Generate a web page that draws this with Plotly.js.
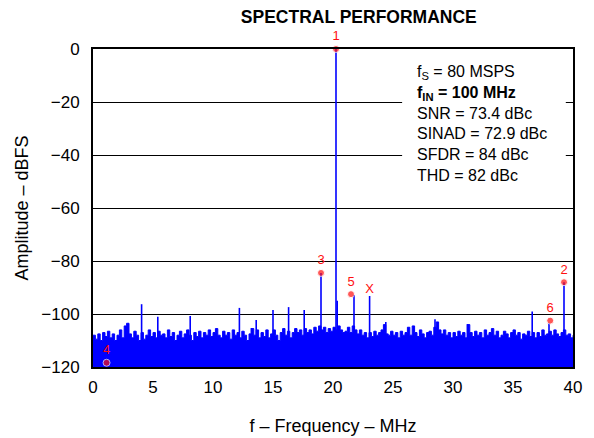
<!DOCTYPE html>
<html>
<head>
<meta charset="utf-8">
<script src="https://cdn.plot.ly/plotly-3.0.1.min.js"></script>
<style>html,body{margin:0;padding:0;background:#fff;}#chart{width:594px;height:438px;}</style>
</head>
<body>
<div id="chart"></div>
<script>
// ---- data ----
// noise floor, 0 to 40 MHz in 0.2 MHz steps (dBFS)
var noiseStep = 0.2;
var noiseLevel = [
  -108, -109.5, -107.5, -110, -107,
  -108.5, -106.5, -109, -107.5, -110,
  -108, -106, -109, -104.5, -103.5,
  -107.5, -109, -106.5, -108, -110,
  -107, -109.5, -108, -106, -108.5,
  -107, -109, -106.5, -108, -107.5,
  -109, -106, -108.5, -107, -110,
  -108, -106.5, -109, -107.5, -106,
  -108, -110, -107, -108.5, -106.5,
  -109, -107, -108, -106, -108.5,
  -107, -105.5, -108, -109, -106.5,
  -108, -107, -109.5, -106, -108,
  -107, -109, -106.5, -108, -110,
  -107.5, -105.5, -108, -106, -109,
  -107, -108.5, -106, -109, -107.5,
  -106, -108, -110, -107, -105.5,
  -108, -106.5, -109, -107, -105.5,
  -107, -106, -108, -105.5, -107,
  -106, -107.5, -105, -106.5, -104.5,
  -106, -105, -107, -105.5, -106.5,
  -105, -106, -104.5, -106, -107,
  -106.5, -105, -107, -104.5, -106,
  -107.5, -106, -108, -107, -109,
  -107, -108.5, -106.5, -108, -107,
  -106, -104, -107.5, -108, -106.5,
  -108, -107, -109, -106.5, -108,
  -107, -105, -108, -104.5, -107,
  -108.5, -106, -107.5, -109, -107,
  -106.5, -108, -105, -103, -106,
  -107.5, -106, -108, -107, -109,
  -107, -108.5, -106.5, -108, -107,
  -109, -104, -107, -108.5, -106.5,
  -108, -107, -109, -106, -108,
  -107, -105.5, -108, -106.5, -109,
  -108, -106.5, -107.5, -109, -107,
  -106, -108, -107, -109.5, -107.5,
  -108, -106.5, -108.5, -107, -109,
  -107, -108.5, -106, -108, -107.5,
  -106.5, -108, -106, -107.5, -108.5,
  -107, -106, -108, -107.5, -109,
  -108
];
// discrete spurs and the fundamental (MHz, dBFS)
var spurFreq  = [4.05, 5.4, 8.1, 12.2, 13.2, 13.6, 15.0, 16.3, 17.6, 19.0, 20.25, 20.35, 21.75, 23.05, 24.4, 28.5, 31.2, 36.6, 38.0, 39.25];
var spurLevel = [-96.3, -101, -100.8, -97.7, -105.3, -102.3, -98.5, -97.4, -98.5, -84.5, 0, -95, -92.8, -93.2, -103, -102, -103.8, -99.1, -103.4, -88];
// harmonic markers
var markerLabel = ['1', '3', '5', 'X', '2', '6', '4'];
var markerFreq  = [20.25, 19.0, 21.5, 23.05, 39.25, 38.1, 1.13];
var markerLevel = [0, -84.5, -92.5, -93.2, -88, -102.5, -118.4];
var markerShown = [true, true, true, false, true, true, true];
// axes
var yFloor = -120;
var xTicks = [0, 5, 10, 15, 20, 25, 30, 35, 40];
var yTicks = [0, -20, -40, -60, -80, -100, -120];
var infoLines = ['f<sub>S</sub> = 80 MSPS', '<b>f<sub>IN</sub> = 100 MHz</b>', 'SNR = 73.4 dBc', 'SINAD = 72.9 dBc', 'SFDR = 84 dBc', 'THD = 82 dBc'];

// ---- build traces ----
var noiseX = noiseLevel.map(function (v, i) { return +(i * noiseStep).toFixed(2); });
var baseY = noiseX.map(function () { return yFloor; });
var segX = [], segY = [];
spurFreq.forEach(function (f, i) { segX.push(f, f, null); segY.push(yFloor, spurLevel[i], null); });

var blue = '#0000FF', red = '#FF1010';
var font = 'Liberation Sans, Arial, Helvetica, sans-serif';

var traces = [
  {x: noiseX, y: baseY, mode: 'lines', line: {width: 0, color: blue}, hoverinfo: 'skip', showlegend: false},
  {x: noiseX, y: noiseLevel, mode: 'lines', fill: 'tonexty', fillcolor: blue, line: {width: 1, color: blue, shape: 'hv'}, showlegend: false},
  {x: segX, y: segY, mode: 'lines', line: {width: 1.6, color: blue}, showlegend: false},
  {x: markerFreq, y: markerLevel, mode: 'markers+text', text: markerLabel, textposition: 'top center',
   textfont: {family: font, size: 13, color: red},
   marker: {color: red, size: markerShown.map(function (s) { return s ? 7 : 0; })},
   cliponaxis: false, showlegend: false}
];

var layout = {
  width: 594, height: 438,
  margin: {l: 93, r: 21, t: 49, b: 71},
  paper_bgcolor: '#fff', plot_bgcolor: '#fff',
  font: {family: font, size: 17, color: '#000'},
  title: {text: '<b>SPECTRAL PERFORMANCE</b>', font: {family: font, size: 17.5, color: '#000'}, x: 0.604, xanchor: 'center', y: 0.962, yanchor: 'middle'},
  xaxis: {range: [0, 40], tickvals: xTicks, ticks: 'outside', ticklen: 4, tickcolor: 'rgba(0,0,0,0)',
          showgrid: false, zeroline: false, showline: true, linecolor: '#000', linewidth: 2, mirror: true,
          tickfont: {size: 17}, title: {text: 'f \u2013 Frequency \u2013 MHz', font: {size: 18}, standoff: 23}},
  yaxis: {range: [-120, 0], tickvals: yTicks, ticks: 'outside', ticklen: 8, tickcolor: 'rgba(0,0,0,0)',
          showgrid: true, gridcolor: '#000', gridwidth: 1, zeroline: false, showline: true, linecolor: '#000', linewidth: 2, mirror: true,
          tickfont: {size: 17}, title: {text: 'Amplitude \u2013 dBFS', font: {size: 18}, standoff: 8}},
  shapes: [{type: 'rect', xref: 'paper', yref: 'paper', x0: 0.644, x1: 0.985, y0: 0.55, y1: 0.972,
            fillcolor: '#fff', line: {width: 0}, layer: 'above'}],
  annotations: [{xref: 'paper', yref: 'paper', x: 0.671, y: 0.962, xanchor: 'left', yanchor: 'top', align: 'left',
                 showarrow: false, text: infoLines.join('<br>'), font: {family: font, size: 16, color: '#000'}}]
};

Plotly.newPlot('chart', traces, layout, {displayModeBar: false, staticPlot: true});
</script>
</body>
</html>
